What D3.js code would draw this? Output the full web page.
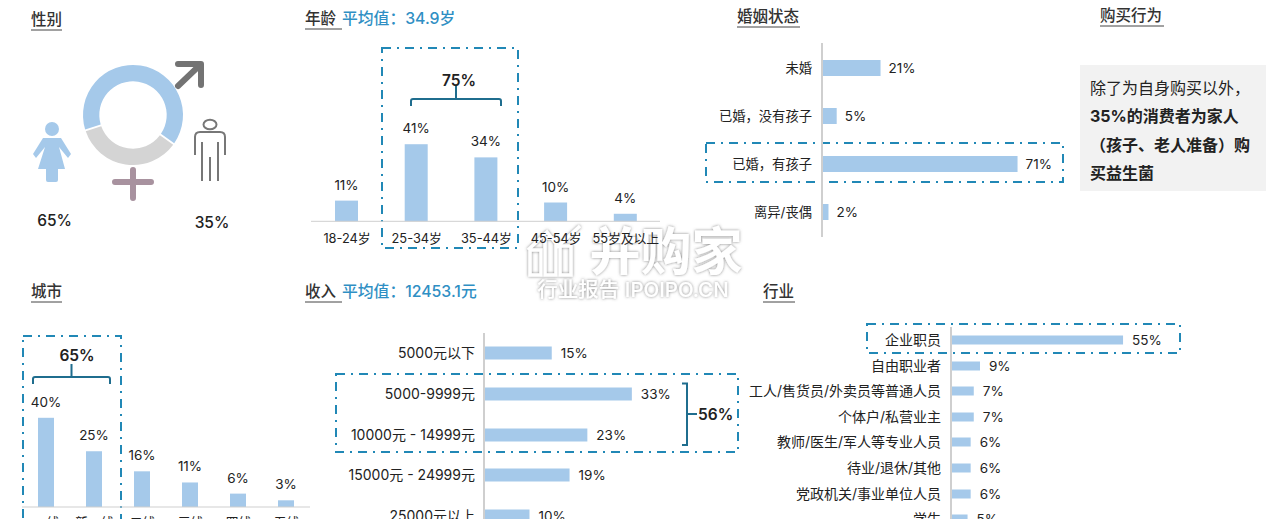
<!DOCTYPE html>
<html><head><meta charset="utf-8">
<script src="https://cdn.jsdelivr.net/npm/d3@7"></script>
<style>html,body{margin:0;padding:0;background:#fff;overflow:hidden}svg{display:block}text{font-family:Inter,"Noto Sans CJK SC",sans-serif;fill:#222}</style>
</head><body><svg id="c" width="1269" height="519"></svg>
<script>
const genderLabels=["女","男"];
const genderValues=[65,35];
const ageCats=["18-24岁","25-34岁","35-44岁","45-54岁","55岁及以上"];
const ageVals=[11,41,34,10,4];
const marriageCats=["未婚","已婚，没有孩子","已婚，有孩子","离异/丧偶"];
const marriageVals=[21,5,71,2];
const cityCats=["一线","新一线","二线","三线","四线","五线"];
const cityVals=[40,25,16,11,6,3];
const incomeCats=["5000元以下","5000-9999元","10000元 - 14999元","15000元 - 24999元","25000元以上"];
const incomeVals=[15,33,23,19,10];
const jobCats=["企业职员","自由职业者","工人/售货员/外卖员等普通人员","个体户/私营业主","教师/医生/军人等专业人员","待业/退休/其他","党政机关/事业单位人员","学生"];
const jobVals=[55,9,7,7,6,6,6,5];
const BLUE="#a5c9ea",GREY="#d4d4d4",AX="#cfcfcf",TEAL="#2188b6",DARK="#1f6d8e";
const svg=d3.select("#c");
/* watermark sits under the chart */
const defs=svg.append("defs");
const fl=defs.append("filter").attr("id","wm").attr("x","-10%").attr("y","-20%").attr("width","120%").attr("height","140%");
fl.append("feDropShadow").attr("dx",0).attr("dy",0).attr("stdDeviation",1.8).attr("flood-color","#666").attr("flood-opacity",0.8);
const wm=svg.append("g").attr("filter","url(#wm)");
wm.append("path").attr("d","M530,275V250H541V275ZM545,275V238H556V275ZM560,275V246H571V275ZM528,250L547,232L558,246L580,226").attr("fill","none").attr("stroke","#fff").attr("stroke-width",3.5);
wm.append("text").attr("x",666).attr("y",270).attr("text-anchor","middle").attr("font-size",51).attr("font-weight",700).style("fill","#fff").text("并购家");
wm.append("text").attr("x",633).attr("y",297).attr("text-anchor","middle").attr("font-size",20.5).attr("font-weight",500).style("fill","#fff").text("行业报告 IPOIPO.CN");
function title(x,y,t,extra,w){
  const g=svg.append("g");
  g.append("text").attr("x",x).attr("y",y).attr("font-size",15.5).attr("font-weight",500).style("fill","#333").text(t);
  g.append("line").attr("x1",x).attr("x2",x+w).attr("y1",y+5).attr("y2",y+5).attr("stroke","#444").attr("stroke-width",1);
  if(extra)g.append("text").attr("x",x+37).attr("y",y).attr("font-size",15.8).attr("font-weight",500).style("fill","#2f8fc4").text(extra);
}
function dash(x,y,w,h){svg.append("rect").attr("x",x).attr("y",y).attr("width",w).attr("height",h).attr("fill","none").attr("stroke",TEAL).attr("stroke-width",2).attr("stroke-dasharray","9 6 2 6");}
function brace(x0,x1,y,stemY){
  svg.append("path").attr("d",`M${x0},${y+7}V${y+2}Q${x0},${y} ${x0+2},${y}H${x1-2}Q${x1},${y} ${x1},${y+2}V${y+7}M${(x0+x1)/2},${y}V${stemY}`).attr("fill","none").attr("stroke",DARK).attr("stroke-width",2);
}
function lab(x,y,t,size,anchor,weight){return svg.append("text").attr("x",x).attr("y",y).attr("font-size",size||13).attr("text-anchor",anchor||"middle").attr("font-weight",weight||400).text(t);}
function vbars(cats,vals,x0,step,baseY,pxPer,bw,axisX0,axisX1,labelY){
  const x=d3.scalePoint().domain(cats).range([x0,x0+step*(cats.length-1)]);
  const y=d3.scaleLinear().domain([0,1]).range([baseY,baseY-pxPer]);
  svg.append("g").selectAll("rect").data(vals).join("rect").attr("x",(d,i)=>x(cats[i])-bw/2).attr("width",bw).attr("y",d=>y(d)).attr("height",d=>baseY-y(d)).attr("fill",BLUE);
  svg.append("line").attr("x1",axisX0).attr("x2",axisX1).attr("y1",baseY).attr("y2",baseY).attr("stroke",AX);
  vals.forEach((d,i)=>lab(x(cats[i]),y(d)-11,d+"%",13.5));
  const ax=d3.axisBottom(x).tickSize(0).tickPadding(0);
  const g=svg.append("g").attr("transform",`translate(0,${labelY})`).call(ax);
  g.select(".domain").remove();
  g.selectAll("text").attr("font-size",12.8).attr("dy",0).style("font-family",'Inter,"Noto Sans CJK SC"').style("fill","#222");
}
function hbars(cats,vals,axisX,ys,barH,pxPer,yTop,yBot,lblGap,valGap,fs){
  const x=d3.scaleLinear().domain([0,1]).range([axisX+1,axisX+1+pxPer]);
  const y=d3.scaleOrdinal().domain(cats).range(ys);
  svg.append("g").selectAll("rect").data(vals).join("rect").attr("x",x(0)).attr("y",(d,i)=>y(cats[i])-barH/2).attr("height",barH).attr("width",d=>x(d)-x(0)).attr("fill",BLUE);
  svg.append("line").attr("x1",axisX).attr("x2",axisX).attr("y1",yTop).attr("y2",yBot).attr("stroke",AX).attr("stroke-width",2);
  cats.forEach((c,i)=>{lab(axisX-lblGap,y(c)+5,c,fs||13,"end");lab(x(vals[i])+valGap,y(c)+5,vals[i]+"%",13.5,"start");});
}
/* titles */
title(31,25,"性别",null,31);
title(305,24,"年龄 ","平均值：34.9岁",37);
title(737,22,"婚姻状态",null,63);
title(1100,21,"购买行为",null,64);
title(31,297,"城市",null,31);
title(305,297,"收入 ","平均值：12453.1元",37);
title(763,297,"行业",null,32);
/* gender donut */
const cx=133,cy=115,arc=d3.arc().innerRadius(33.7).outerRadius(50);
const startA=-Math.PI*0.6;
const pie=d3.pie().sort(null).startAngle(startA).endAngle(startA+2*Math.PI).padAngle(0.03);
svg.append("g").attr("transform",`translate(${cx},${cy})`).selectAll("path").data(pie(genderValues)).join("path").attr("d",arc).attr("fill",(d,i)=>i?GREY:BLUE);
svg.append("path").attr("d","M178,86L200,65M178,64H201V85").attr("fill","none").attr("stroke","#737373").attr("stroke-width",6).attr("stroke-linecap","round").attr("stroke-linejoin","round");
svg.append("path").attr("d","M133,170V198M115,182H151").attr("fill","none").attr("stroke","#a8929f").attr("stroke-width",6).attr("stroke-linecap","round");
/* female icon */
const f=svg.append("g").attr("fill",BLUE);
f.append("circle").attr("cx",52).attr("cy",129).attr("r",7);
f.append("path").attr("d","M43,138H61L71,154L68,158L59,147L65,169H58V180Q58,182 56,182H48Q46,182 46,180V169H38L45,147L36,158L33,154Z");
/* male icon */
svg.append("ellipse").attr("cx",210).attr("cy",124.5).attr("rx",6.5).attr("ry",4.8).attr("fill","none").attr("stroke","#777").attr("stroke-width",2);
svg.append("path").attr("d","M195,155V137Q195,132 200,132H220Q225,132 225,137V155M202,142V181M210,157V181M218,142V181").attr("fill","none").attr("stroke","#777").attr("stroke-width",2);
lab(54.5,226,genderValues[0]+"%",15.5,"middle",500);
lab(212,228,genderValues[1]+"%",15.5,"middle",500);
/* age */
dash(382,48,136,200);
vbars(ageCats,ageVals,346.5,69.7,221.3,1.88,23,311,660,243);
brace(411,501,99,86);
lab(459,86,"75%",15.5,"middle",600);
/* marriage */
dash(706,143,357,39);
hbars(marriageCats,marriageVals,822,[68,116,164,212],16,2.74,43,237,10,8,13.3);
/* purchase */
svg.append("rect").attr("x",1080).attr("y",65).attr("width",186).attr("height",126).attr("fill","#f2f2f2");
lab(1090,94,"除了为自身购买以外，",16,"start");
lab(1090,122,"35%的消费者为家人",16,"start",700);
lab(1090,151,"（孩子、老人准备）购",16,"start",700);
lab(1090,179,"买益生菌",16,"start",700);
/* city */
dash(23,336,98,200);
vbars(cityCats,cityVals,46,48,507,2.23,16,22,310,527);
brace(33,110,377,364);
lab(77,361,"65%",15.5,"middle",600);
/* income */
dash(336,374,402,78);
hbars(incomeCats,incomeVals,484,[353,394,435,475,516],13,4.45,333,519,9,9,14);
svg.append("path").attr("d","M682,383.5H687V445H682M687,414H697").attr("fill","none").attr("stroke",DARK).attr("stroke-width",2);
lab(698,420,"56%",15.5,"start",600);
/* job */
dash(867,324,313,29);
hbars(jobCats,jobVals,951,[340,366,391,417,442,468,494,519],9,3.11,327,519,10,9,14);
</script></body></html>
